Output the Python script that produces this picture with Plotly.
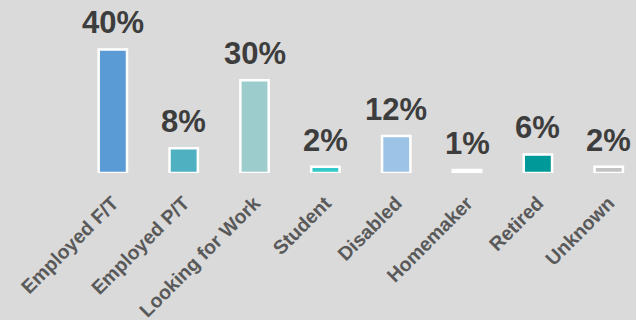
import plotly.graph_objects as go

categories = ["Employed F/T", "Employed P/T", "Looking for Work", "Student",
              "Disabled", "Homemaker", "Retired", "Unknown"]
values = [40, 8, 30, 2, 12, 1, 6, 2]
labels = ["40%", "8%", "30%", "2%", "12%", "1%", "6%", "2%"]
colors = ["#5b9bd5", "#4fb0c2", "#9ccccc", "#33c9c9",
          "#9dc3e6", "#ffffff", "#00999a", "#c3c3c3"]

fig = go.Figure()
fig.add_trace(go.Bar(
    x=categories, y=values, width=0.4,
    marker=dict(color=colors, line=dict(color="white", width=2.5)),
    hoverinfo="skip",
))

for c, v, t in zip(categories, values, labels):
    fig.add_annotation(x=c, y=v, text=t, showarrow=False, yanchor="bottom",
                       yshift=7,
                       font=dict(family="Liberation Sans", size=31, color="#3d3d3d",
                                 weight="bold"))

fig.update_layout(
    width=636, height=320,
    margin=dict(l=42, r=6, t=0, b=147),
    paper_bgcolor="#dadada", plot_bgcolor="#dadada",
    showlegend=False,
    xaxis=dict(range=[-1.0, 7.3], showgrid=False, showline=False, zeroline=False,
               tickangle=-45, ticks="", ticklabelstandoff=14,
               tickfont=dict(family="Liberation Sans", size=19.5, color="#595959",
                             weight="bold")),
    yaxis=dict(range=[0, 56], visible=False),
)

fig.write_html("out.html")
